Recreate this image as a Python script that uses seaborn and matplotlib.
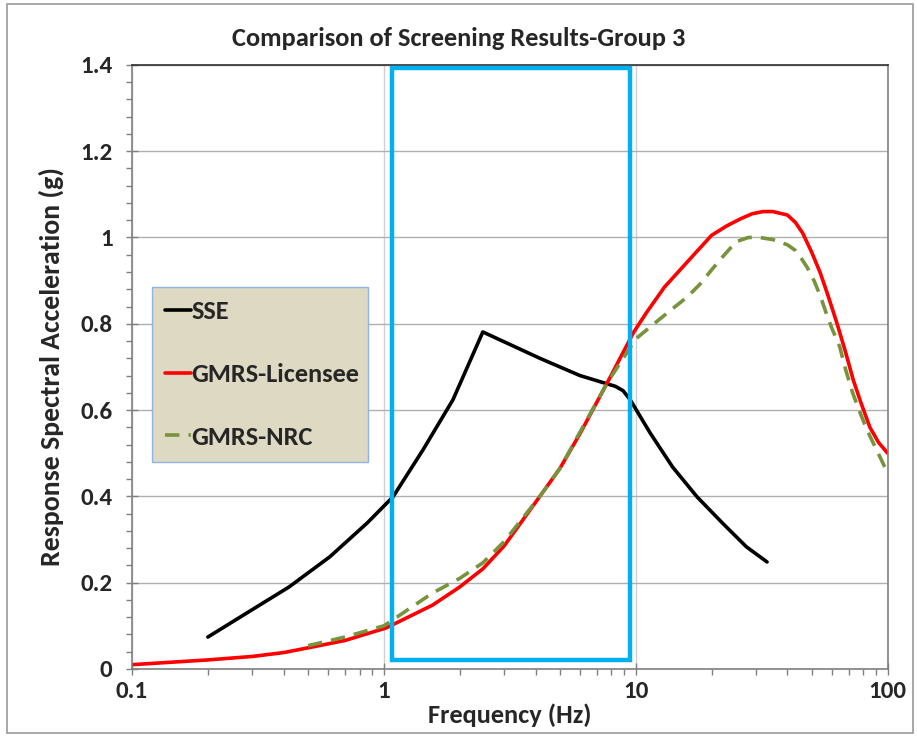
import numpy as np
import pandas as pd
import matplotlib.pyplot as plt
import matplotlib.ticker as mticker
from matplotlib.patches import Rectangle
import seaborn as sns

# SSE
sse_f = [0.2, 0.286, 0.42, 0.61, 0.857, 1.087, 1.43, 1.88, 2.47, 4.16, 6.0, 8.3, 8.9, 9.5, 11.4, 14, 17.5, 22.1, 27.5, 33.2]
sse_a = [0.074, 0.13, 0.19, 0.26, 0.338, 0.399, 0.508, 0.624, 0.781, 0.72, 0.68, 0.655, 0.645, 0.624, 0.547, 0.468, 0.399, 0.338, 0.283, 0.248]

# GMRS-Licensee
lic_f = [0.1, 0.2, 0.3, 0.4, 0.52, 0.7, 1.02, 1.56, 2.0, 2.47, 3, 4.16, 5, 6, 7.7, 9.8,
         11, 13, 15, 17, 20, 23, 26, 29, 32, 35, 40, 43, 46, 50, 54, 58, 63, 68, 73, 78, 85, 92, 100]
lic_a = [0.01, 0.021, 0.029, 0.038, 0.051, 0.066, 0.095, 0.148, 0.19, 0.232, 0.285, 0.40, 0.465, 0.545, 0.663, 0.78,
         0.825, 0.885, 0.925, 0.96, 1.005, 1.027, 1.043, 1.055, 1.06, 1.06, 1.052, 1.035, 1.01, 0.965, 0.918, 0.865, 0.80, 0.735, 0.67, 0.62, 0.56, 0.525, 0.50]

# GMRS-NRC
nrc_f = [0.5, 0.7, 1.0, 1.56, 2.0, 2.47, 3, 4.16, 5, 7.7, 10, 12.4, 14, 16, 18, 20, 22.5, 25, 28, 31, 35, 40, 43, 45, 48,
         51, 54, 57, 60, 64.5, 68, 72.6, 77, 82.6, 90, 100]
nrc_a = [0.054, 0.074, 0.10, 0.176, 0.21, 0.246, 0.295, 0.40, 0.465, 0.663, 0.765, 0.81, 0.835, 0.862, 0.892, 0.925, 0.96, 0.99, 1.0, 1.0, 0.995, 0.983, 0.97, 0.955, 0.93,
         0.90, 0.865, 0.825, 0.79, 0.747, 0.695, 0.64, 0.60, 0.555, 0.51, 0.454]

y_ticks = [0, 0.2, 0.4, 0.6, 0.8, 1.0, 1.2, 1.4]
x_ticks = [0.1, 1, 10, 100]
box_f = [1.08, 9.47]
box_a = [0.021, 1.393]

sns.set_style('white')
plt.rcParams['font.family'] = ['Carlito', 'Noto Sans', 'DejaVu Sans']
plt.rcParams['font.weight'] = 'bold'

fig = plt.figure(figsize=(9.17, 7.37), dpi=100)
ax = fig.add_axes([0.144, 0.0923, 0.824, 0.8197])
fig.patches.append(Rectangle((0.008, 0.006), 0.988, 0.988, transform=fig.transFigure,
                             fill=False, edgecolor='#9a9a9a', linewidth=1.2))

ax.set_xscale('log')
sns.lineplot(x=sse_f, y=sse_a, color='black', linewidth=2.6, ax=ax, label='SSE')
sns.lineplot(x=lic_f, y=lic_a, color='#ff0000', linewidth=2.6, ax=ax, label='GMRS-Licensee')
sns.lineplot(x=nrc_f, y=nrc_a, color='#77933c', linewidth=2.6, ax=ax, label='GMRS-NRC')
ax.lines[2].set_dashes([4, 2.5])

ax.add_patch(Rectangle((box_f[0], box_a[0]), box_f[1] - box_f[0], box_a[1] - box_a[0],
                       fill=False, edgecolor='#00b0f0', linewidth=3.2, zorder=5))

ax.set_xlim(0.1, 100)
ax.set_ylim(0, 1.4)
ax.set_yticks(y_ticks)
ax.yaxis.set_major_formatter(mticker.FuncFormatter(lambda v, p: f'{v:g}'))
ax.yaxis.set_minor_locator(mticker.MultipleLocator(0.04))
ax.set_xticks(x_ticks)
ax.xaxis.set_major_formatter(mticker.FuncFormatter(lambda v, p: f'{v:g}'))
ax.xaxis.set_minor_locator(mticker.LogLocator(base=10, subs=np.arange(2, 10)))
ax.xaxis.set_minor_formatter(mticker.NullFormatter())
ax.tick_params(axis='both', which='major', direction='inout', length=8, width=1, color='#808080',
               labelsize=18, left=True, bottom=True, pad=5)
ax.tick_params(axis='y', which='major', pad=10)
ax.tick_params(axis='both', which='minor', direction='out', length=4, width=1, color='#808080',
               left=True, bottom=True)
for lab in ax.get_xticklabels() + ax.get_yticklabels():
    lab.set_fontweight('bold')

ax.grid(True, axis='y', color='#b0b0b0', linewidth=1)
ax.grid(True, axis='x', which='major', color='#d0d0d0', linewidth=1)
for side in ['left', 'bottom', 'right']:
    ax.spines[side].set_color('#808080')
    ax.spines[side].set_linewidth(1.2)
ax.spines['top'].set_color('#303030')
ax.spines['top'].set_linewidth(1.2)

ax.set_xlabel('Frequency (Hz)', fontsize=19, fontweight='bold', labelpad=1)
ax.set_ylabel('Response Spectral Acceleration (g)', fontsize=20, fontweight='bold', labelpad=12)
fig.text(0.5, 0.948, 'Comparison of Screening Results-Group 3', ha='center', va='center',
         fontsize=19, fontweight='bold')

leg = ax.legend(loc='lower left', bbox_to_anchor=(0.026, 0.343, 0.286, 0.306), mode='expand',
                frameon=True, fancybox=False, handlelength=1.0, handletextpad=0.0,
                labelspacing=1.5, borderpad=0.5, borderaxespad=0, fontsize=19)
leg.get_frame().set_facecolor('#ddd9c3')
leg.get_frame().set_edgecolor('#8eb4e3')
leg.get_frame().set_alpha(1)
for t in leg.get_texts():
    t.set_fontweight('bold')

fig.savefig('out.png', dpi=100)
